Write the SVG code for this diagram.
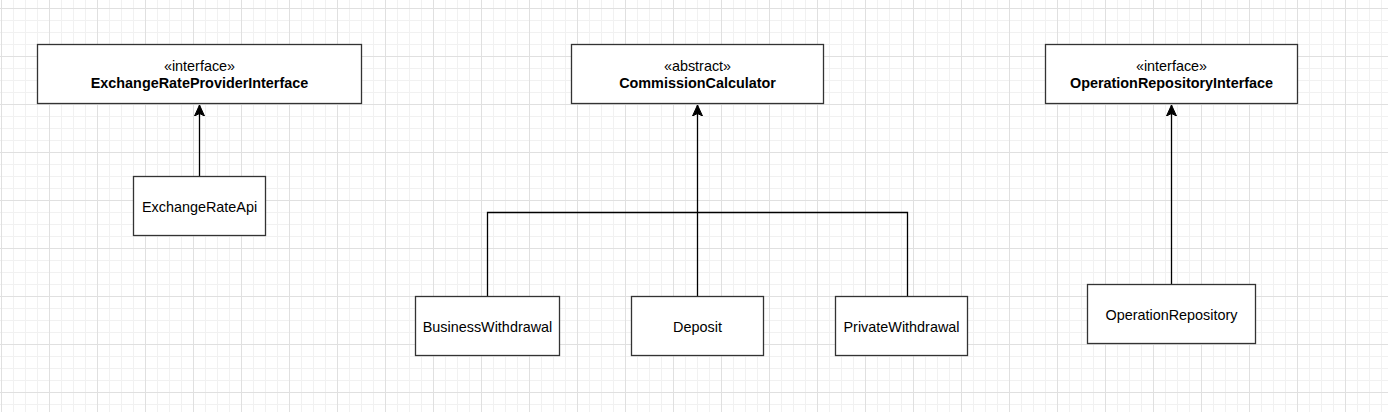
<svg xmlns="http://www.w3.org/2000/svg" width="1388" height="412" viewBox="0 0 1388 412">
  <defs>
    <pattern id="grid" patternUnits="userSpaceOnUse" x="1" y="8" width="48" height="48">
      <path d="M12.5,0V48M24.5,0V48M36.5,0V48M0,12.5H48M0,24.5H48M0,36.5H48" stroke="#f1f1f1" stroke-width="1" fill="none"/>
      <path d="M0.5,0V48M0,0.5H48" stroke="#e0e0e0" stroke-width="1" fill="none"/>
    </pattern>
    <marker id="arrow" markerUnits="userSpaceOnUse" viewBox="0 0 12 12" refX="11" refY="6" markerWidth="12" markerHeight="12" orient="auto">
      <path d="M11,6 L0,1 L2.5,6 L0,11 Z" fill="#000" stroke="#000" stroke-width="1"/>
    </marker>
  </defs>
  <style>
    .box { fill: #ffffff; stroke: #333333; stroke-width: 1.3; }
    .edge { fill: none; stroke: #000000; stroke-width: 1.3; }
    text { font-family: "Liberation Sans", Arial, sans-serif; font-size: 14.4px; fill: #000000; text-anchor: middle; }
    .bold { font-weight: bold; }
  </style>
  <rect x="0" y="0" width="1388" height="412" fill="#ffffff"/>
  <rect x="0" y="0" width="1388" height="412" fill="url(#grid)"/>

  <g id="connectors">
    <path class="edge" d="M199.5,176 V105" marker-end="url(#arrow)"/>
    <path class="edge" d="M697.5,296 V105" marker-end="url(#arrow)"/>
    <path class="edge" d="M487.5,296 V212.5 H697.5"/>
    <path class="edge" d="M907.5,296 V212.5 H697.5"/>
    <path class="edge" d="M1171.5,284 V105" marker-end="url(#arrow)"/>
  </g>

  <g id="ExchangeRateProviderInterface">
    <rect class="box" x="37.5" y="44.5" width="324" height="59"/>
    <text x="199.5" y="71">«interface»</text>
    <text class="bold" x="199.5" y="88">ExchangeRateProviderInterface</text>
  </g>
  <g id="ExchangeRateApi">
    <rect class="box" x="133.5" y="176.5" width="132" height="59"/>
    <text x="199.5" y="211.5">ExchangeRateApi</text>
  </g>

  <g id="CommissionCalculator">
    <rect class="box" x="571.5" y="44.5" width="252" height="59"/>
    <text x="697.5" y="71">«abstract»</text>
    <text class="bold" x="697.5" y="88">CommissionCalculator</text>
  </g>
  <g id="BusinessWithdrawal">
    <rect class="box" x="415.5" y="296.5" width="144" height="59"/>
    <text x="487.5" y="331.5">BusinessWithdrawal</text>
  </g>
  <g id="Deposit">
    <rect class="box" x="631.5" y="296.5" width="132" height="59"/>
    <text x="697.5" y="331.5">Deposit</text>
  </g>
  <g id="PrivateWithdrawal">
    <rect class="box" x="835.5" y="296.5" width="132" height="59"/>
    <text x="901.5" y="331.5">PrivateWithdrawal</text>
  </g>

  <g id="OperationRepositoryInterface">
    <rect class="box" x="1045.5" y="44.5" width="252" height="59"/>
    <text x="1171.5" y="71">«interface»</text>
    <text class="bold" x="1171.5" y="88">OperationRepositoryInterface</text>
  </g>
  <g id="OperationRepository">
    <rect class="box" x="1087.5" y="284.5" width="168" height="59"/>
    <text x="1171.5" y="319.5">OperationRepository</text>
  </g>
</svg>
